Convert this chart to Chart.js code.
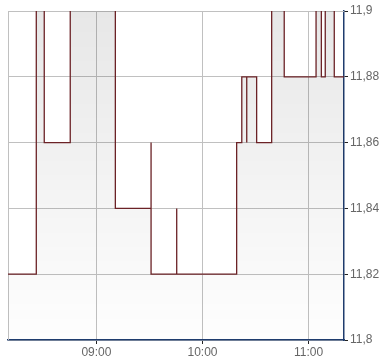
<!DOCTYPE html>
<html>
<head>
<meta charset="utf-8">
<title>Price chart</title>
<script src="https://cdn.jsdelivr.net/npm/chart.js@4.4.0/dist/chart.umd.min.js"></script>
<style>
  body { margin: 0; background: #fff; }
  #wrap { width: 390px; height: 364px; }
</style>
</head>
<body>
<div id="wrap"><canvas id="priceChart"></canvas></div>
<script>
// minutes since midnight of each price change, and the price after it
const times  = [490, 506, 510.5, 525.2, 550.7, 570.9, 570.9, 585.4, 585.4,
                619.3, 619.3, 619.3, 622.2, 625, 625, 630.6, 639.1, 646.2,
                664.2, 667.2, 669.4, 674.5, 680];
const prices = [11.82, 11.92, 11.86, 11.92, 11.84, 11.86, 11.82, 11.84, 11.82,
                11.86, 11.84, 11.86, 11.88, 11.86, 11.88, 11.86, 11.92, 11.88,
                11.92, 11.88, 11.92, 11.88, 11.88];
const xTicks = [540, 600, 660];
const yMin = 11.8, yMax = 11.9, yStep = 0.02;
const xMin = 490, xMax = 680;

function hhmm(m) {
  const h = Math.floor(m / 60), mm = Math.round(m % 60);
  return String(h).padStart(2, '0') + ':' + String(mm).padStart(2, '0');
}

const points = times.map((t, i) => ({ x: t, y: prices[i] }));

const frame = {
  id: 'frame',
  beforeDatasetsDraw(chart) {
    const a = chart.chartArea, ctx = chart.ctx;
    ctx.save();
    ctx.strokeStyle = '#c0c0c0';
    ctx.lineWidth = 1;
    ctx.beginPath();
    ctx.moveTo(a.left + 0.5, a.bottom);
    ctx.lineTo(a.left + 0.5, a.top + 0.5);
    ctx.lineTo(a.right, a.top + 0.5);
    ctx.stroke();
    ctx.restore();
  }
};

new Chart(document.getElementById('priceChart'), {
  type: 'line',
  data: {
    datasets: [{
      data: points,
      stepped: true,
      borderColor: '#6b2226',
      borderWidth: 1.3,
      pointRadius: 0,
      fill: 'start',
      backgroundColor(c) {
        const a = c.chart.chartArea;
        if (!a) return 'rgba(0,0,0,0.05)';
        const g = c.chart.ctx.createLinearGradient(0, a.top, 0, a.bottom);
        g.addColorStop(0, 'rgba(0,0,0,0.095)');
        g.addColorStop(1, 'rgba(0,0,0,0.005)');
        return g;
      }
    }]
  },
  options: {
    responsive: true,
    maintainAspectRatio: false,
    animation: false,
    layout: { padding: { left: 8, top: 11, right: 0, bottom: 0 } },
    plugins: { legend: { display: false }, tooltip: { enabled: false } },
    scales: {
      x: {
        type: 'linear',
        min: xMin, max: xMax,
        afterBuildTicks(s) { s.ticks = xTicks.map(v => ({ value: v })); },
        afterFit(s) { s.height = 24; },
        border: { color: '#1f3c6e', width: 1.5 },
        grid: { color: '#c0c0c0', tickColor: '#222', tickLength: 4 },
        ticks: {
          color: '#666',
          padding: 1,
          maxRotation: 0,
          font: { family: 'Liberation Sans, Arial', size: 12 },
          callback: v => hhmm(v)
        }
      },
      y: {
        position: 'right',
        min: yMin, max: yMax,
        afterFit(s) { s.width = 46; },
        border: { color: '#1f3c6e', width: 1.5 },
        grid: { color: '#c0c0c0', tickColor: '#222', tickLength: 4 },
        ticks: {
          stepSize: yStep,
          color: '#666',
          padding: 2,
          font: { family: 'Liberation Sans, Arial', size: 12 },
          callback: v => String(parseFloat(v.toFixed(2))).replace('.', ',')
        }
      }
    }
  },
  plugins: [frame]
});
</script>
</body>
</html>
